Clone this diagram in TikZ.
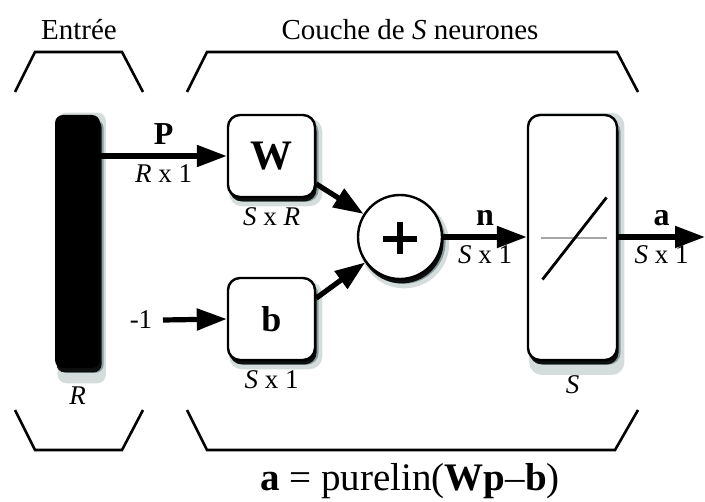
\documentclass[tikz,border=0pt]{standalone}
\usepackage{fontspec}
\setmainfont{Liberation Serif}
\usepackage{xcolor}
\usepackage{tikz}
\usetikzlibrary{positioning,shadows,arrows.meta}

\definecolor{shade}{RGB}{45,80,80}

\begin{document}
\begin{tikzpicture}[
    x=0.5pt, y=-0.5pt,
    font=\fontsize{13.5}{15}\selectfont,
    glow/.style={
        drop shadow={shadow xshift=2pt, shadow yshift=-3pt, shadow scale=1.07, fill=shade, opacity=0.2},
        drop shadow={shadow xshift=1.8pt, shadow yshift=-2.4pt, fill=shade, opacity=0.45},
        drop shadow={shadow xshift=0.8pt, shadow yshift=-2.2pt, fill=black, opacity=0.9}
    },
    block/.style={
        draw,
        line width=1.2pt,
        rounded corners=6pt,
        fill=white,
        minimum width=43.5pt,
        minimum height=41pt,
        inner sep=0pt,
        glow
    },
    sumop/.style={
        circle,
        draw,
        line width=1.2pt,
        fill=white,
        minimum size=42pt,
        inner sep=0pt,
        glow
    },
    arrow/.style={-{Triangle[length=15pt,width=10.5pt]}, line width=2.6pt},
    bracket/.style={line width=1.3pt},
    dim/.style={font=\fontsize{13.5}{15}\selectfont, inner sep=1pt},
    sym/.style={font=\fontsize{16}{18}\selectfont\bfseries}
]
\useasboundingbox (0,0) rectangle (705,502);

% input vector and layer blocks
\node[fill=black, rounded corners=4pt, minimum width=22.5pt, minimum height=126.5pt,
      inner sep=0pt, glow] (input) at (77.5,241.5) {};
\node[block] (W) at (271.5,156) {\fontsize{21}{22}\selectfont\bfseries W};
\node[block] (b) at (271.5,319) {\fontsize{18}{20}\selectfont\bfseries b};
\node[sumop] (sum) at (400,237) {};
\node[block, minimum width=44.5pt, minimum height=122.5pt] (act) at (572.5,237.5) {};

% plus sign and linear transfer inside the blocks
\draw[line width=2.6pt] (sum.center) +(-17,2) -- +(17,2);
\draw[line width=2.6pt] (sum.center) +(0,-15) -- +(0,17);
\draw[gray!70, line width=1pt] (act.center) +(-32,0) -- +(34,0);
\draw[line width=1.4pt] (act.center) +(-30,42) -- +(34,-40);

% dimension labels
\node[dim, below=3.5pt of W] {\textit{S} x \textit{R}};
\node[dim, below=3.5pt of b] {\textit{S} x 1};
\node[dim, below=8pt of input] {\textit{R}};
\node[dim, below=6pt of act] {\textit{S}};

% signal path
\draw[arrow] (input.east |- W.west) -- node[above=1pt, sym] {P}
    node[below=2pt, dim] {\textit{R} x 1} (W.west);
\node (bias) at (141,320) {-1};
\draw[arrow] (163,320) -- (b.west);
\draw[arrow] (W.-32) -- (sum);
\draw[arrow] (b.25) -- (sum);
\draw[arrow] (sum.east) -- node[above=1pt, sym] {n}
    node[below=2pt, dim] {\textit{S} x 1} (sum.east -| act.west);
\coordinate (out) at (705,237);
\draw[arrow] (act.east |- sum.east) -- node[above=1pt, sym] {a}
    node[below=2pt, dim] {\textit{S} x 1} (out);

% grouping brackets
\draw[bracket] (15,92) -- (35,52) -- (122,52) -- (143,92);
\draw[bracket] (187,92) -- (207,52) -- (617,52) -- (638,92);
\draw[bracket] (15,410) -- (35,450) -- (122,450) -- (143,410);
\draw[bracket] (187,410) -- (207,450) -- (615,450) -- (638,410);

% titles and equation
\node[font=\fontsize{14.5}{16}\selectfont] (intitle) at (79,30) {Entrée};
\node[font=\fontsize{14.5}{16}\selectfont] (laytitle) at (410,30) {Couche de \textit{S} neurones};
\node[font=\fontsize{19.5}{21}\selectfont] (eq) at (410,481)
    {\textbf{a} = purelin(\textbf{Wp}--\textbf{b})};

\end{tikzpicture}
\end{document}
